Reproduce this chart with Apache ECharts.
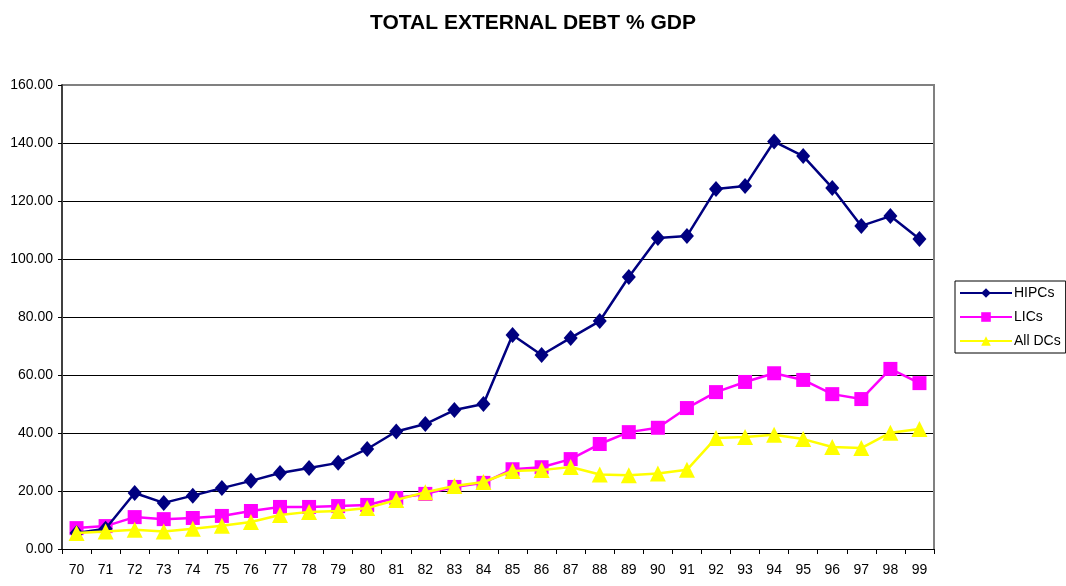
<!DOCTYPE html>
<html>
<head>
<meta charset="utf-8">
<title>Total external debt % GDP</title>
<script src="https://cdn.jsdelivr.net/npm/echarts@6/dist/echarts.min.js"></script>
<style>
  html, body { margin: 0; padding: 0; background: #fff; }
  #chart { width: 1066px; height: 586px; }
</style>
</head>
<body>
<div id="chart"></div>
<script>
// years on the x axis (two-digit labels as in the source)
const years = ['70', '71', '72', '73', '74', '75', '76', '77', '78', '79',
  '80', '81', '82', '83', '84', '85', '86', '87', '88', '89',
  '90', '91', '92', '93', '94', '95', '96', '97', '98', '99']

// total external debt as % of GDP
const hipcs = [5.5, 7.0, 19.3, 15.9, 18.4, 21.0, 23.5, 26.2, 27.9, 29.7,
  34.5, 40.5, 43.1, 47.9, 50.0, 73.8, 66.9, 72.8, 78.6, 93.8,
  107.2, 107.9, 124.1, 125.2, 140.5, 135.5, 124.5, 111.4, 114.8, 106.9]
const lics = [7.2, 7.9, 11.0, 10.3, 10.7, 11.4, 13.1, 14.5, 14.5, 14.8,
  15.2, 17.6, 19.0, 21.4, 22.8, 27.5, 28.2, 31.0, 36.2, 40.3,
  41.8, 48.6, 54.1, 57.6, 60.6, 58.3, 53.4, 51.7, 62.1, 57.2]
const allDcs = [5.5, 6.0, 6.6, 6.0, 7.0, 8.0, 9.3, 11.7, 12.8, 13.1,
  14.1, 16.9, 19.6, 21.7, 23.1, 26.9, 27.2, 28.3, 25.7, 25.4,
  26.0, 27.3, 38.3, 38.6, 39.4, 37.9, 35.2, 34.8, 40.1, 41.4]

const chart = echarts.init(document.getElementById('chart'))

const axisFont = { fontFamily: 'Liberation Sans, Arial, sans-serif', fontSize: 14, color: '#000' }

chart.setOption({
  animation: false,
  backgroundColor: '#fff',
  title: {
    text: 'TOTAL EXTERNAL DEBT % GDP',
    left: 'center',
    top: 8,
    textStyle: {
      fontFamily: 'Liberation Sans, Arial, sans-serif',
      fontSize: 21,
      fontWeight: 'bold',
      color: '#000'
    }
  },
  legend: {
    orient: 'vertical',
    left: 955,
    top: 281,
    padding: [5, 5, 5, 4],
    itemWidth: 52,
    itemHeight: 12,
    itemGap: 10,
    borderColor: '#000',
    borderWidth: 1,
    textStyle: Object.assign({}, axisFont, { padding: [0, 0, 0, -3] }),
    data: ['HIPCs', 'LICs', 'All DCs']
  },
  grid: { left: 62, right: 132, top: 85, bottom: 37 },
  xAxis: {
    type: 'category',
    data: years,
    boundaryGap: true,
    axisLine: { lineStyle: { color: '#000', width: 1 } },
    axisTick: { show: true, length: 5, inside: false, lineStyle: { color: '#000' } },
    axisLabel: Object.assign({}, axisFont, { margin: 14 })
  },
  yAxis: {
    type: 'value',
    min: 0,
    max: 160,
    interval: 20,
    axisLine: { show: true, lineStyle: { color: '#404040', width: 2 } },
    axisTick: { show: true, length: 4, lineStyle: { color: '#000' } },
    axisLabel: Object.assign({}, axisFont, {
      margin: 9,
      formatter: v => v.toFixed(2)
    }),
    splitLine: { show: true, lineStyle: { color: '#000', width: 1 } }
  },
  series: [
    {
      name: 'HIPCs',
      type: 'line',
      data: hipcs,
      color: '#000080',
      symbol: 'diamond',
      symbolSize: [14, 16],
      lineStyle: { width: 2.5 },
      z: 3
    },
    {
      name: 'LICs',
      type: 'line',
      data: lics,
      color: '#ff00ff',
      symbol: 'rect',
      symbolSize: 14,
      lineStyle: { width: 2.5 },
      z: 2
    },
    {
      name: 'All DCs',
      type: 'line',
      data: allDcs,
      color: '#ffff00',
      symbol: 'triangle',
      symbolSize: 16,
      lineStyle: { width: 2.5 },
      z: 4
    }
  ]
})

// grey frame on top and right of the plot area, like the source
chart.setOption({
  graphic: [{
    type: 'polyline',
    shape: { points: [[62, 85], [934, 85], [934, 549]] },
    style: { stroke: '#808080', lineWidth: 2, fill: null },
    silent: true
  }]
})
</script>
</body>
</html>
